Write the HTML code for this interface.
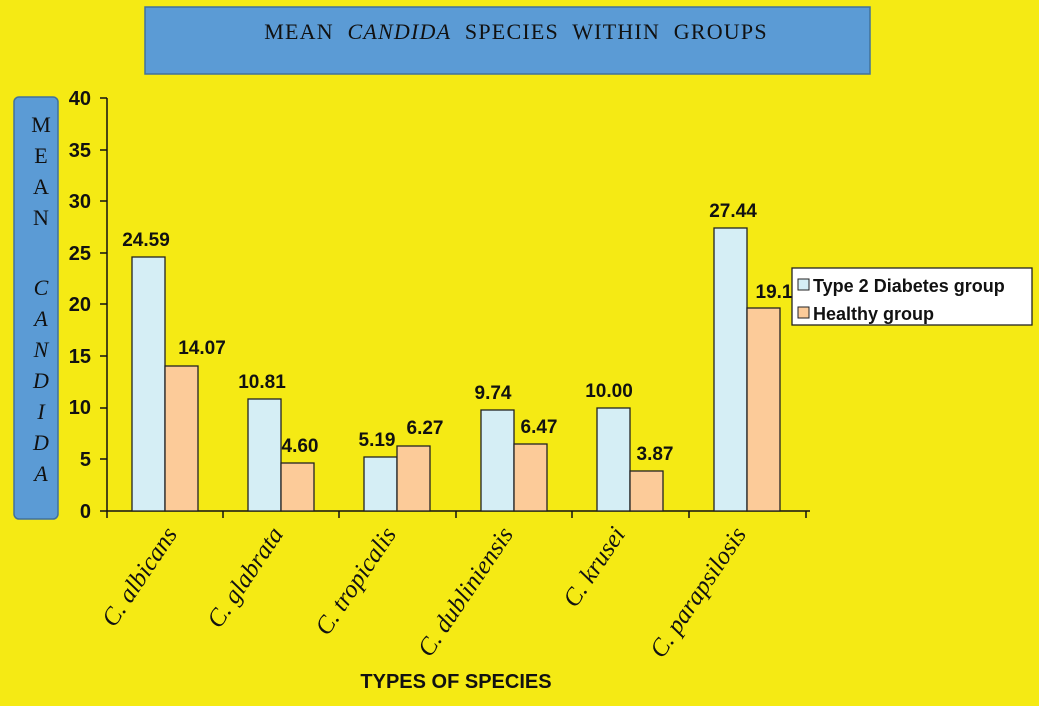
<!DOCTYPE html>
<html><head><meta charset="utf-8"><style>body{margin:0;background:#f5ea14}</style></head>
<body>
<svg width="1039" height="706" xmlns="http://www.w3.org/2000/svg" style="display:block">
<rect width="1039" height="706" fill="#f5ea14"/>
<rect x="145" y="7" width="725" height="67" fill="#5b9bd5" stroke="#41719c" stroke-width="1.5"/>
<text x="516" y="39" text-anchor="middle" font-family="Liberation Serif, serif" font-size="22" letter-spacing="1.2" word-spacing="7" fill="#111">MEAN <tspan font-style="italic">CANDIDA</tspan> SPECIES WITHIN GROUPS</text>
<rect x="14" y="97" width="44" height="422" rx="5" fill="#5b9bd5" stroke="#41719c" stroke-width="1.5"/>
<g font-family="Liberation Serif, serif" font-size="22" fill="#111" text-anchor="middle">
<text x="41" y="132">M</text><text x="41" y="163">E</text><text x="41" y="194">A</text><text x="41" y="225">N</text>
<g font-style="italic"><text x="41" y="295">C</text><text x="41" y="326">A</text><text x="41" y="357">N</text><text x="41" y="388">D</text><text x="41" y="419">I</text><text x="41" y="450">D</text><text x="41" y="481">A</text></g>
</g>
<g stroke="#111" stroke-width="1.5">
<line x1="107" y1="98" x2="107" y2="511"/>
<line x1="100" y1="511" x2="810" y2="511"/>
</g>
<g font-family="Liberation Sans, sans-serif" font-weight="bold" font-size="20" fill="#111" text-anchor="end">
<text x="91" y="105">40</text><text x="91" y="157">35</text><text x="91" y="208">30</text><text x="91" y="260">25</text><text x="91" y="311">20</text><text x="91" y="363">15</text><text x="91" y="414">10</text><text x="91" y="466">5</text><text x="91" y="518">0</text>
</g>
<g stroke="#111" stroke-width="1.5">
<line x1="100" y1="98" x2="107" y2="98"/><line x1="100" y1="150" x2="107" y2="150"/><line x1="100" y1="201" x2="107" y2="201"/><line x1="100" y1="253" x2="107" y2="253"/><line x1="100" y1="304" x2="107" y2="304"/><line x1="100" y1="356" x2="107" y2="356"/><line x1="100" y1="408" x2="107" y2="408"/><line x1="100" y1="459" x2="107" y2="459"/>
<line x1="223" y1="511" x2="223" y2="518"/><line x1="339" y1="511" x2="339" y2="518"/><line x1="456" y1="511" x2="456" y2="518"/><line x1="572" y1="511" x2="572" y2="518"/><line x1="689" y1="511" x2="689" y2="518"/><line x1="806" y1="511" x2="806" y2="518"/><line x1="107" y1="511" x2="107" y2="518"/>
</g>
<g stroke="#222" stroke-width="1.3">
<rect x="132" y="257" width="33" height="254" fill="#d5eef5"/><rect x="165" y="366" width="33" height="145" fill="#fccb99"/>
<rect x="248" y="399" width="33" height="112" fill="#d5eef5"/><rect x="281" y="463" width="33" height="48" fill="#fccb99"/>
<rect x="364" y="457" width="33" height="54" fill="#d5eef5"/><rect x="397" y="446" width="33" height="65" fill="#fccb99"/>
<rect x="481" y="410" width="33" height="101" fill="#d5eef5"/><rect x="514" y="444" width="33" height="67" fill="#fccb99"/>
<rect x="597" y="408" width="33" height="103" fill="#d5eef5"/><rect x="630" y="471" width="33" height="40" fill="#fccb99"/>
<rect x="714" y="228" width="33" height="283" fill="#d5eef5"/><rect x="747" y="308" width="33" height="203" fill="#fccb99"/>
</g>
<g font-family="Liberation Sans, sans-serif" font-weight="bold" font-size="19" fill="#111" text-anchor="middle">
<text x="146" y="246">24.59</text><text x="202" y="354">14.07</text>
<text x="262" y="388">10.81</text><text x="300" y="452">4.60</text>
<text x="377" y="446">5.19</text><text x="425" y="434">6.27</text>
<text x="493" y="399">9.74</text><text x="539" y="433">6.47</text>
<text x="609" y="397">10.00</text><text x="655" y="460">3.87</text>
<text x="733" y="217">27.44</text><text x="774" y="298">19.1</text>
</g>
<g font-family="Liberation Serif, serif" font-style="italic" font-size="25" fill="#111" text-anchor="end">
<text transform="translate(178,534) rotate(-56)">C. albicans</text>
<text transform="translate(284,534) rotate(-56)">C. glabrata</text>
<text transform="translate(397,534) rotate(-56)">C. tropicalis</text>
<text transform="translate(514,534) rotate(-56)">C. dubliniensis</text>
<text transform="translate(626,534) rotate(-56)">C. krusei</text>
<text transform="translate(747,534) rotate(-56)">C. parapsilosis</text>
</g>
<rect x="792" y="268" width="240" height="57" fill="#fff" stroke="#222" stroke-width="1.3"/>
<rect x="798" y="279" width="11" height="11" fill="#d5eef5" stroke="#222"/>
<rect x="798" y="307" width="11" height="11" fill="#fccb99" stroke="#222"/>
<g font-family="Liberation Sans, sans-serif" font-weight="bold" font-size="18" fill="#111">
<text x="813" y="292">Type 2 Diabetes group</text>
<text x="813" y="320">Healthy group</text>
</g>
<text x="456" y="688" text-anchor="middle" font-family="Liberation Sans, sans-serif" font-weight="bold" font-size="20" fill="#111">TYPES OF SPECIES</text>
</svg>
</body></html>
